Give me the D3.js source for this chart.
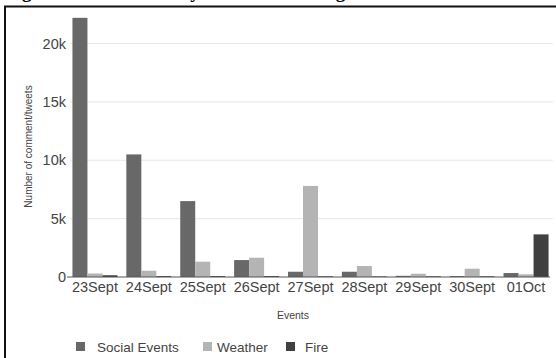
<!DOCTYPE html>
<html><head><meta charset="utf-8">
<script src="https://cdn.jsdelivr.net/npm/d3@7"></script>
<style>
html,body{margin:0;padding:0;background:#fff;}
svg{display:block;font-family:"Liberation Sans",Arial,sans-serif;}
</style></head>
<body>
<svg id="c" width="556" height="358"></svg>
<script>
const categories = ["23Sept","24Sept","25Sept","26Sept","27Sept","28Sept","29Sept","30Sept","01Oct"];
const seriesNames = ["Social Events","Weather","Fire"];
const socialEvents = [22200, 10500, 6500, 1450, 450, 450, 100, 80, 340];
const weather      = [300, 540, 1310, 1650, 7800, 940, 280, 710, 230];
const fire         = [150, 80, 80, 80, 60, 50, 60, 60, 3650];
const yTicks = [0, 5000, 10000, 15000, 20000];
const yTickLabels = ["0","5k","10k","15k","20k"];
const colors = ["#686868","#b4b4b4","#404040"];

const seriesValues = [socialEvents, weather, fire];
const svg = d3.select("#c");

// partially visible caption at top
svg.append("text").attr("x",5).attr("y",-2)
  .attr("font-family","'Liberation Serif','Times New Roman',serif")
  .attr("font-weight","bold").attr("font-size",19).attr("fill","#000")
  .text("Figure 2: Tweet Activity of Events Throughout the Month");

// frame
svg.append("path").attr("d","M5,358V6.5H556").attr("fill","none")
  .attr("stroke","#111").attr("stroke-width",2);

const y = d3.scaleLinear().domain([0,20000]).range([277,43.5]);
const x = d3.scaleBand().domain(categories).range([68,553]).padding(0);
const groupW = 45;
const x1 = d3.scaleBand().domain(seriesNames).range([0,groupW]).padding(0);

// gridlines
svg.append("g").selectAll("line").data(yTicks.slice(1)).join("line")
  .attr("x1",70).attr("x2",553)
  .attr("y1",d=>y(d)).attr("y2",d=>y(d))
  .attr("stroke","#e6e6e6").attr("stroke-width",1);

// bars
const rows = [];
categories.forEach((c,i)=>seriesNames.forEach((s,j)=>rows.push({c,s,j,v:seriesValues[j][i]})));
svg.append("g").selectAll("rect").data(rows).join("rect")
  .attr("x",d=>x(d.c)+(x.bandwidth()-groupW)/2+x1(d.s))
  .attr("width",x1.bandwidth())
  .attr("y",d=>y(d.v))
  .attr("height",d=>y(0)-y(d.v))
  .attr("fill",d=>colors[d.j]);

// baseline
svg.append("line").attr("x1",67).attr("x2",550)
  .attr("y1",y(0)).attr("y2",y(0)).attr("stroke","#555").attr("stroke-width",1);

// y tick labels
svg.append("g").selectAll("text").data(yTicks).join("text")
  .attr("x",66).attr("y",d=>y(d)).attr("dy","0.35em")
  .attr("text-anchor","end").attr("font-size",14.5).attr("fill","#444")
  .text((d,i)=>yTickLabels[i]);

// x tick labels
svg.append("g").selectAll("text").data(categories).join("text")
  .attr("x",d=>x(d)+x.bandwidth()/2).attr("y",292)
  .attr("text-anchor","middle").attr("font-size",14.5).attr("fill","#444")
  .text(d=>d);

// axis titles
svg.append("text").attr("transform","translate(28,146.5) rotate(-90)")
  .attr("text-anchor","middle").attr("dy","0.35em")
  .attr("font-size",10).attr("fill","#444").text("Number of comment/tweets");
svg.append("text").attr("x",293).attr("y",319)
  .attr("text-anchor","middle").attr("font-size",10.5).attr("fill","#444").text("Events");

// legend
const legX = [[76,97],[203,217],[286,305]];
const leg = svg.append("g").selectAll("g").data(seriesNames).join("g");
leg.append("rect").attr("x",(d,i)=>legX[i][0]).attr("y",342).attr("width",9).attr("height",9)
  .attr("fill",(d,i)=>colors[i]);
leg.append("text").attr("x",(d,i)=>legX[i][1]).attr("y",351.5)
  .attr("font-size",13.5).attr("fill","#444").text(d=>d);
</script>
</body></html>
